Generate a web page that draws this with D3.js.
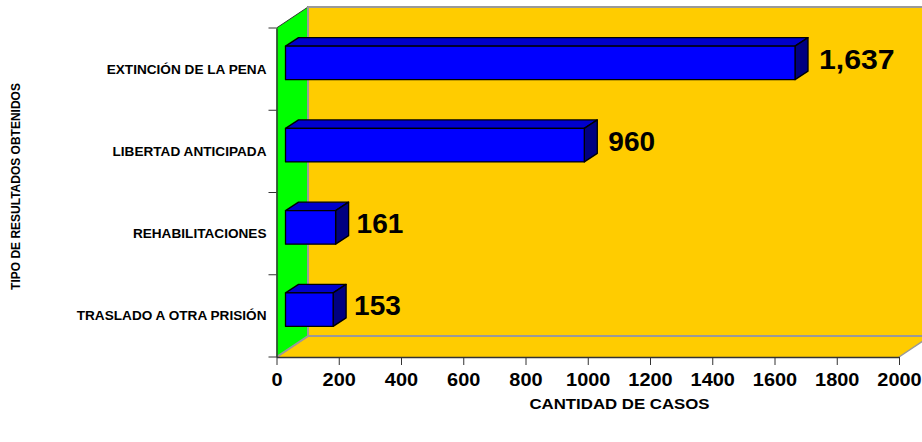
<!DOCTYPE html>
<html><head><meta charset="utf-8">
<script src="https://cdn.jsdelivr.net/npm/d3@7"></script>
<style>html,body{margin:0;padding:0;background:#fff;overflow:hidden}svg{display:block}text{font-family:"Liberation Sans",Arial,sans-serif;font-weight:bold;fill:#000}</style>
</head><body><svg id="c" width="922" height="442"></svg>
<script>
const categories=["EXTINCIÓN DE LA PENA","LIBERTAD ANTICIPADA","REHABILITACIONES","TRASLADO A OTRA PRISIÓN"];
const values=[1637,960,161,153];
const valueLabels=["1,637","960","161","153"];
const xTicks=[0,200,400,600,800,1000,1200,1400,1600,1800,2000];
const svg=d3.select("#c");
const x=d3.scaleLinear().domain([0,2000]).range([276.5,899]);
const y=d3.scaleBand().domain(categories).range([28,357]);
const dx=31.5,dy=21,bdx=13,bdy=8.5,gray="#999999";
const x0=x(0),x1=x(2000),yT=y.range()[0],yB=y.range()[1];
const line=d3.line();
// back wall
svg.append("path").attr("d",line([[x0+dx,yT-dy],[x1+dx,yT-dy],[x1+dx,yB-dy],[x0+dx,yB-dy]])+"Z").attr("fill","#ffcc00");
svg.append("path").attr("d",line([[x0+dx,yB-dy],[x0+dx,yT-dy],[x1+dx,yT-dy]])).attr("fill","none").attr("stroke",gray).attr("stroke-width",2);
// floor
svg.append("path").attr("d",line([[x0,yB],[x1,yB],[x1+dx,yB-dy],[x0+dx,yB-dy]])+"Z").attr("fill","#ffcc00");
svg.append("path").attr("d",line([[x0,yB],[x0+dx,yB-dy],[x1+dx,yB-dy]])).attr("fill","none").attr("stroke",gray).attr("stroke-width",2);
svg.append("path").attr("d",line([[x1,yB],[x1+dx,yB-dy]])).attr("fill","none").attr("stroke",gray).attr("stroke-width",1.5);
// left wall
svg.append("path").attr("d",line([[x0,yT],[x0+dx,yT-dy],[x0+dx,yB-dy],[x0,yB]])+"Z").attr("fill","#00ff00");
svg.append("path").attr("d",line([[x0,yT],[x0+dx,yT-dy]])).attr("stroke","#333").attr("stroke-width",1);
svg.append("path").attr("d",line([[x0,yB],[x0+dx,yB-dy]])).attr("stroke",gray).attr("stroke-width",2);
svg.append("path").attr("d",line([[x0+dx,yB-dy],[x0+dx,yT-dy]])).attr("stroke",gray).attr("stroke-width",2);
// bars
const barOff=9,barH=33.5;
const g=svg.selectAll("g.bar").data(categories).join("g").attr("class","bar");
g.each(function(c,i){
  const s=d3.select(this),v=values[i];
  const l=x(0)+barOff,r=x(v)+barOff,t=y(c)+y.bandwidth()/2-23,b=t+barH;
  const st={stroke:"#000","stroke-width":1.3,"stroke-linejoin":"round"};
  const add=(pts,f)=>{const p=s.append("path").attr("d",line(pts)+"Z").attr("fill",f);Object.entries(st).forEach(([k,w])=>p.attr(k,w));};
  add([[l,t],[l+bdx,t-bdy],[r+bdx,t-bdy],[r,t]],"#0000cc");
  add([[r,t],[r+bdx,t-bdy],[r+bdx,b-bdy],[r,b]],"#000080");
  add([[l,t],[r,t],[r,b],[l,b]],"#0000ff");
  const sx=valueLabels[i].includes(",")?1.1:1.02;
  s.append("text").attr("transform",`translate(${r+(v<500?21:24)},${t+bdy+14}) scale(${sx},1)`).attr("font-size",27.5).text(valueLabels[i]);
});
// axes
const ax=svg.append("g").attr("transform",`translate(0,${yB})`).call(d3.axisBottom(x).tickValues(xTicks).tickSize(8).tickSizeOuter(0).tickFormat(d3.format("d")));
ax.select(".domain").attr("stroke","#333").attr("stroke-width",1.5);
ax.selectAll("line").attr("stroke","#333").attr("stroke-width",1);
ax.selectAll("text").attr("font-size",17.5).attr("y",0).attr("dy",0).attr("transform","translate(0,29) scale(1.14,1)").attr("font-family",'"Liberation Sans"').attr("font-weight","bold");
const ay=svg.append("g").attr("transform",`translate(${x0},0)`).call(d3.axisLeft(y).tickSize(0).tickPadding(10));
ay.select(".domain").attr("stroke","#333").attr("stroke-width",1.5);
ay.selectAll("text").attr("font-size",12.5).attr("font-family",'"Liberation Sans"').attr("font-weight","bold").attr("x",0).attr("dy","0.36em").attr("transform","translate(-10,0) scale(1.09,1)");
const stepTicks=categories.map(c=>y(c)).concat([yB]);
svg.selectAll("line.yt").data(stepTicks).join("line").attr("class","yt").attr("x1",x0-8).attr("x2",x0).attr("y1",d=>d).attr("y2",d=>d).attr("stroke","#333");
// titles
svg.append("text").attr("transform","translate(619.5,409) scale(1.2,1)").attr("text-anchor","middle").attr("font-size",14).text("CANTIDAD DE CASOS");
svg.append("text").attr("transform","translate(19.5,186.5) rotate(-90)").attr("text-anchor","middle").attr("font-size",12).text("TIPO DE RESULTADOS OBTENIDOS");
</script></body></html>
